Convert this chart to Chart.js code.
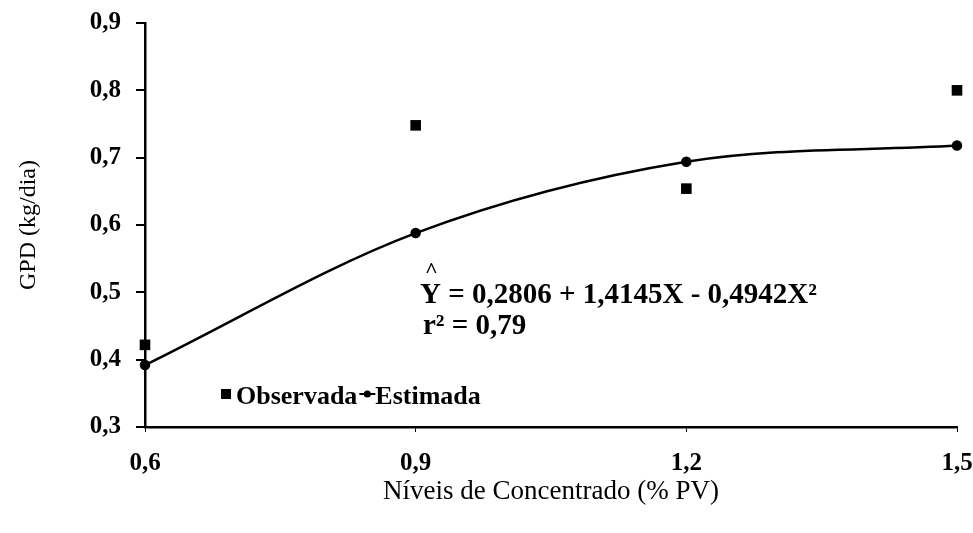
<!DOCTYPE html>
<html>
<head>
<meta charset="utf-8">
<script src="https://cdn.jsdelivr.net/npm/chart.js@4/dist/chart.umd.min.js"></script>
<style>
  html, body { margin: 0; padding: 0; background: #fff; }
  #wrap { width: 973px; height: 533px; }
</style>
</head>
<body>
<div id="wrap"><canvas id="chart" width="973" height="533"></canvas></div>
<script>
// data
const levels = [0.6, 0.9, 1.2, 1.5];
const observada = [0.422, 0.748, 0.654, 0.800];
const estimada = [0.392, 0.588, 0.694, 0.718];
const xTickLabels = ['0,6', '0,9', '1,2', '1,5'];
const yTickLabels = ['0,3', '0,4', '0,5', '0,6', '0,7', '0,8', '0,9'];
const equation = 'Y = 0,2806 + 1,4145X - 0,4942X²';
const rSquared = 'r² = 0,79';

const serif = "'Liberation Serif', 'DejaVu Serif', serif";

const annotations = {
    id: 'annotations',
    afterDraw(chart) {
        const ctx = chart.ctx;
        ctx.save();
        ctx.fillStyle = '#000';
        ctx.strokeStyle = '#000';
        ctx.textBaseline = 'alphabetic';
        ctx.textAlign = 'left';

        // regression equation
        ctx.font = 'bold 29px ' + serif;
        ctx.fillText(equation, 420, 303);
        ctx.font = 'bold 22px ' + serif;
        ctx.fillText('^', 425, 277);
        ctx.font = 'bold 29px ' + serif;
        ctx.fillText(rSquared, 423, 334);

        // legend
        ctx.font = 'bold 26px ' + serif;
        ctx.fillRect(221, 389, 10, 10);
        ctx.fillText('Observada', 236, 404);
        let x = 236 + ctx.measureText('Observada').width + 2;
        ctx.lineWidth = 2;
        ctx.beginPath();
        ctx.moveTo(x, 394);
        ctx.lineTo(x + 16, 394);
        ctx.stroke();
        ctx.beginPath();
        ctx.arc(x + 8, 394, 3.5, 0, Math.PI * 2);
        ctx.fill();
        ctx.fillText('Estimada', x + 16, 404);
        ctx.restore();
    }
};

new Chart(document.getElementById('chart'), {
    type: 'scatter',
    data: {
        datasets: [
            {
                label: 'Observada',
                data: levels.map((x, i) => ({ x: x, y: observada[i] })),
                pointStyle: 'rect',
                pointRadius: 7.5,
                backgroundColor: '#000',
                borderColor: '#000',
                borderWidth: 0,
                clip: false
            },
            {
                label: 'Estimada',
                data: levels.map((x, i) => ({ x: x, y: estimada[i] })),
                showLine: true,
                cubicInterpolationMode: 'monotone',
                borderColor: '#000',
                backgroundColor: '#000',
                borderWidth: 2.5,
                pointRadius: 4,
                clip: false
            }
        ]
    },
    options: {
        responsive: false,
        animation: false,
        events: [],
        layout: { padding: { left: 0, right: 16, top: 23, bottom: 25 } },
        scales: {
            x: {
                type: 'linear',
                min: 0.6,
                max: 1.5,
                afterBuildTicks: s => { s.ticks = levels.map(v => ({ value: v })); },
                afterFit: s => { s.height = 81; s.paddingLeft = 0; s.paddingRight = 0; },
                ticks: {
                    padding: 17,
                    maxRotation: 0,
                    color: '#000',
                    font: { family: serif, size: 25, weight: 'bold' },
                    callback: (v, i) => xTickLabels[i]
                },
                grid: { drawOnChartArea: false, drawTicks: true, tickLength: 5, color: '#000', lineWidth: 1 },
                border: { color: '#000', width: 2.5 },
                title: {
                    display: true,
                    text: 'Níveis de Concentrado (% PV)',
                    color: '#000',
                    font: { family: serif, size: 27 },
                    padding: { top: 0, bottom: 0 }
                }
            },
            y: {
                min: 0.3,
                max: 0.9,
                ticks: {
                    stepSize: 0.1,
                    padding: 15,
                    color: '#000',
                    font: { family: serif, size: 25, weight: 'bold' },
                    callback: (v, i) => yTickLabels[i]
                },
                afterFit: s => { s.width = 145; s.paddingTop = 0; s.paddingBottom = 0; },
                grid: { drawOnChartArea: false, drawTicks: true, tickLength: 9, color: '#000', lineWidth: 2 },
                border: { color: '#000', width: 2.5 },
                title: {
                    display: true,
                    text: 'GPD (kg/dia)',
                    color: '#000',
                    font: { family: serif, size: 24 },
                    padding: { top: 14, bottom: 0 }
                }
            }
        },
        plugins: {
            legend: { display: false },
            tooltip: { enabled: false }
        }
    },
    plugins: [annotations]
});
</script>
</body>
</html>
